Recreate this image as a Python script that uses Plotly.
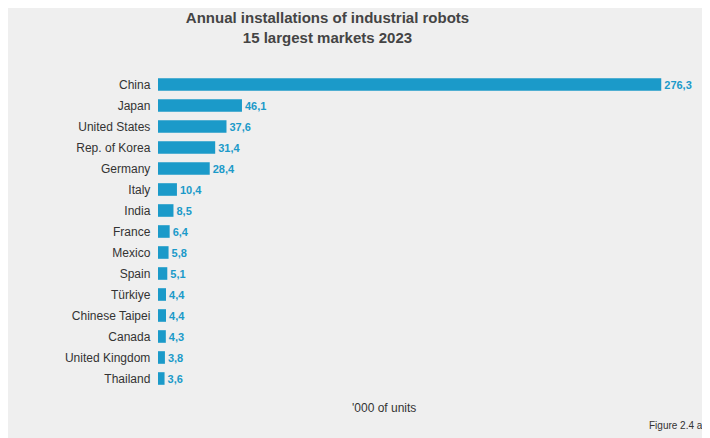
import plotly.graph_objects as go

countries = ["China", "Japan", "United States", "Rep. of Korea", "Germany", "Italy",
             "India", "France", "Mexico", "Spain", "Türkiye", "Chinese Taipei",
             "Canada", "United Kingdom", "Thailand"]
installs = [276.3, 46.1, 37.6, 31.4, 28.4, 10.4, 8.5, 6.4, 5.8, 5.1, 4.4, 4.4, 4.3, 3.8, 3.6]
labels = [f"{v:.1f}".replace(".", ",") for v in installs]

BLUE = "#1b9ac9"

fig = go.Figure(go.Bar(
    x=installs, y=countries, orientation="h",
    marker=dict(color=BLUE, line=dict(width=0)),
    width=0.6,
    text=labels, textposition="outside", cliponaxis=False,
    textfont=dict(family="Arial, Liberation Sans", size=11, color=BLUE, weight="bold"),
))

fig.update_layout(
    width=710, height=438,
    margin=dict(l=150, r=50, t=66, b=57),
    paper_bgcolor="#efefef", plot_bgcolor="rgba(0,0,0,0)",
    showlegend=False,
    font=dict(family="Arial, Liberation Sans", color="#333333"),
    title=dict(text="<b>Annual installations of industrial robots<br>15 largest markets 2023</b>",
               x=0.45, xanchor="center", y=0.965, yanchor="top",
               font=dict(size=15, color="#444444")),
    xaxis=dict(range=[0, 280], visible=False),
    yaxis=dict(autorange="reversed", showgrid=False, showline=False, ticks="",
               ticksuffix="  ", tickfont=dict(size=12, color="#333333")),
    annotations=[
        dict(text="'000 of units", x=0.443, y=-0.06, xref="paper", yref="paper",
             xanchor="center", yanchor="middle", showarrow=False,
             font=dict(size=12, color="#333333")),
        dict(text="Figure 2.4 a)", x=1.078, y=-0.115, xref="paper", yref="paper",
             xanchor="right", yanchor="middle", showarrow=False,
             font=dict(size=10, color="#333333")),
    ],
)

fig.write_html("out.html")
